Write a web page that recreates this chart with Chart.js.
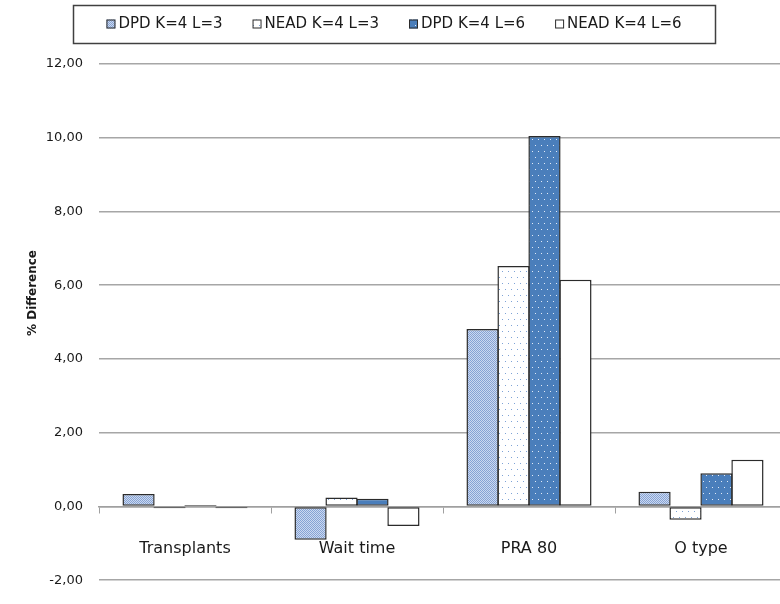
<!DOCTYPE html>
<html>
<head>
<meta charset="utf-8">
<script src="https://cdn.jsdelivr.net/npm/chart.js@4.4.1/dist/chart.umd.min.js"></script>
<style>
  html, body { margin: 0; padding: 0; background: #ffffff; overflow: hidden; }
  #wrap { width: 792px; height: 604px; }
</style>
</head>
<body>
<div id="wrap"><canvas id="chart" width="792" height="604"></canvas></div>
<script>
// Categories and series values (% difference)
const categories = ['Transplants', 'Wait time', 'PRA 80', 'O type'];
const seriesNames = ['DPD K=4 L=3', 'NEAD K=4 L=3', 'DPD K=4 L=6', 'NEAD K=4 L=6'];
const dpdL3 = [0.34, -0.90, 4.81, 0.40];
const neadL3 = [-0.05, 0.24, 6.52, -0.36];
const dpdL6 = [0.04, 0.21, 10.05, 0.90];
const neadL6 = [-0.05, -0.53, 6.15, 1.27];
const yTicks = [-2, 0, 2, 4, 6, 8, 10, 12];

const FONT = '"DejaVu Sans", Verdana, sans-serif';
const EDGE = '#2b2b2b';

// Small tiled fills for the bars
function makePattern(w, h, bg, dotColor, dots) {
  const c = document.createElement('canvas');
  c.width = w; c.height = h;
  const g = c.getContext('2d');
  g.fillStyle = bg;
  g.fillRect(0, 0, w, h);
  g.fillStyle = dotColor;
  dots.forEach(([x, y]) => g.fillRect(x, y, 1, 1));
  return g.createPattern(c, 'repeat');
}
const ctx = document.getElementById('chart').getContext('2d');
const fineDots = makePattern(2, 2, '#ccd9f0', '#86a3d4', [[0, 0], [1, 1]]);
const sparseBlue = makePattern(6, 12, '#ffffff', '#7fa3d6', [[1, 1], [4, 7]]);
const sparseWhite = makePattern(6, 12, '#4a7ebb', '#e3ebf7', [[1, 1], [4, 7]]);
const plainWhite = '#ffffff';
const fills = [fineDots, sparseBlue, sparseWhite, plainWhite];

const seriesValues = [dpdL3, neadL3, dpdL6, neadL6];
const datasets = seriesValues.map((vals, i) => ({
  label: seriesNames[i],
  data: vals,
  backgroundColor: fills[i],
  borderColor: EDGE,
  borderWidth: 1.5,
  borderSkipped: false,
  categoryPercentage: 0.72,
  barPercentage: 1.04
}));

// Boxed legend row across the top, plus the rotated axis caption
const decorations = {
  id: 'decorations',
  afterDraw(chart) {
    const c = chart.ctx;
    c.save();
    // legend frame
    c.strokeStyle = '#404040';
    c.lineWidth = 1.5;
    c.strokeRect(73.5, 5.5, 642, 38);
    c.font = '15px ' + FONT;
    c.textBaseline = 'middle';
    const gap = 30, sw = 9, sp = 3;
    const widths = chart.data.datasets.map(d => sw + sp + c.measureText(d.label).width);
    const total = widths.reduce((a, b) => a + b, 0) + gap * (widths.length - 1);
    let x = 73 + (642 - total) / 2;
    const y = 24;
    chart.data.datasets.forEach((d, i) => {
      c.fillStyle = d.backgroundColor;
      c.fillRect(x, y - sw / 2, sw, sw);
      c.strokeStyle = EDGE;
      c.lineWidth = 1;
      c.strokeRect(x + 0.5, y - sw / 2 + 0.5, sw - 1, sw - 1);
      c.fillStyle = '#1a1a1a';
      c.textAlign = 'left';
      c.fillText(d.label, x + sw + sp, y);
      x += widths[i] + gap;
    });
    // y-axis caption
    c.translate(33, 293);
    c.rotate(-Math.PI / 2);
    c.font = 'bold 12px ' + FONT;
    c.textAlign = 'center';
    c.fillStyle = '#1a1a1a';
    c.fillText('% Difference', 0, 0);
    c.restore();
  }
};

new Chart(ctx, {
  type: 'bar',
  data: { labels: categories, datasets },
  options: {
    responsive: false,
    animation: false,
    events: [],
    layout: { padding: { top: 64, right: 5, bottom: 11, left: 0 } },
    plugins: {
      legend: { display: false },
      tooltip: { enabled: false }
    },
    scales: {
      x: {
        position: { y: 0 },
        grid: {
          offset: true,
          drawOnChartArea: false,
          drawTicks: true,
          tickLength: 6,
          color: '#a0a0a0'
        },
        border: { display: true, color: '#a0a0a0', width: 1.5 },
        ticks: {
          font: { family: FONT, size: 16 },
          color: '#1a1a1a',
          padding: 27,
          maxRotation: 0
        }
      },
      y: {
        min: -2,
        max: 12,
        afterBuildTicks(scale) { scale.ticks = yTicks.map(v => ({ value: v })); },
        afterFit(scale) { scale.width = 99; },
        grid: { color: '#a6a6a6', lineWidth: 1.5, drawTicks: false },
        border: { display: false },
        ticks: {
          font: { family: FONT, size: 13 },
          color: '#1a1a1a',
          padding: 16,
          callback: v => v.toFixed(2).replace('.', ',')
        }
      }
    }
  },
  plugins: [decorations]
});
</script>
</body>
</html>
